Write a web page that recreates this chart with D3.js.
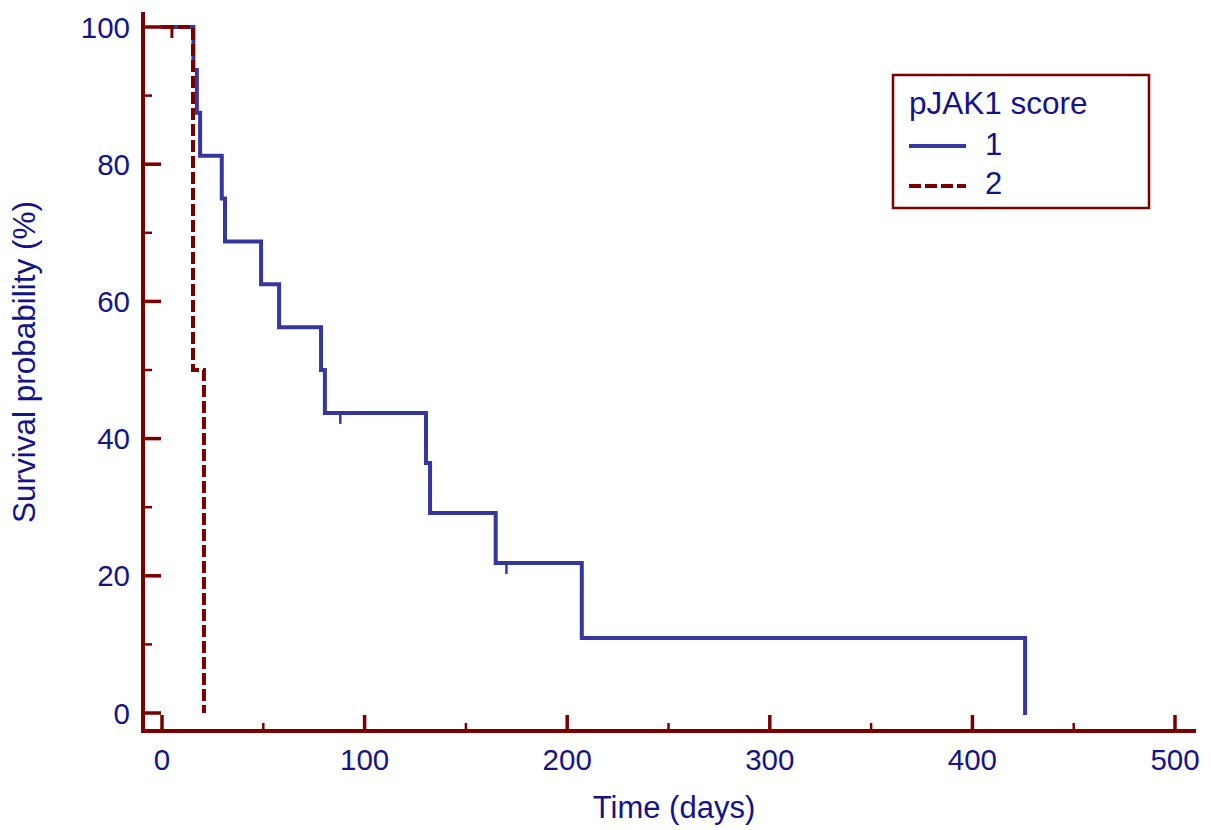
<!DOCTYPE html>
<html>
<head>
<meta charset="utf-8">
<script src="https://cdn.jsdelivr.net/npm/d3@7"></script>
<style>
  html, body { margin: 0; padding: 0; background: #ffffff; }
  svg { display: block; }
  text { font-family: "Liberation Sans", Arial, sans-serif; }
</style>
</head>
<body>
<svg id="chart" width="1211" height="830"></svg>
<script>
// ---- data ----
const seriesNames = ["1", "2"];
const legendTitle = "pJAK1 score";
// group 1: step times (days) and survival (%)
const g1Times = [0, 15.5, 17.2, 18.8, 29.5, 31.1, 48.9, 57.8, 78.5, 80.4, 130.3, 132.3, 164.7, 207.2, 426];
const g1Surv  = [100, 93.75, 87.5, 81.25, 75, 68.75, 62.5, 56.25, 50, 43.75, 36.46, 29.17, 21.88, 10.94, 0];
const g1CensorTimes = [88, 170];
const g1CensorSurv  = [43.75, 21.88];
// group 2
const g2Times = [0, 15.3, 20.7];
const g2Surv  = [100, 50, 0];
const g2CensorTimes = [4.9];
const g2CensorSurv  = [100];
// axis ticks
const xMajorTicks = [0, 100, 200, 300, 400, 500];
const xMinorTicks = [50, 150, 250, 350, 450];
const yMajorTicks = [0, 20, 40, 60, 80, 100];
const yMinorTicks = [10, 30, 50, 70, 90];
const xTitle = "Time (days)";
const yTitle = "Survival probability (%)";

// ---- styles ----
const axisColor = "#7a0000";
const textColor = "#14148a";
const blue = "#3636a0";
const red = "#7a0000";

const svg = d3.select("#chart");
svg.append("rect").attr("width", 1211).attr("height", 830).attr("fill", "#fff");

const x = d3.scaleLinear().domain([0, 500]).range([162, 1175]);
const y = d3.scaleLinear().domain([0, 100]).range([713, 27]);

const axisX = 143, axisY = 731;

// ---- curves ----
const line = d3.line().curve(d3.curveStepAfter).x(d => x(d[0])).y(d => y(d[1]));
const g1 = g1Times.map((t, i) => [t, g1Surv[i]]);
const g2 = g2Times.map((t, i) => [t, g2Surv[i]]);

svg.append("path").datum(g1).attr("d", line)
  .attr("fill", "none").attr("stroke", blue).attr("stroke-width", 4)
  .attr("stroke-linejoin", "miter").attr("stroke-linecap", "square");
svg.selectAll(".c1").data(g1CensorTimes).enter().append("line")
  .attr("x1", d => x(d)).attr("x2", d => x(d))
  .attr("y1", (d, i) => y(g1CensorSurv[i])).attr("y2", (d, i) => y(g1CensorSurv[i]) + 11)
  .attr("stroke", blue).attr("stroke-width", 2.5);

svg.append("path").datum(g2).attr("d", line)
  .attr("fill", "none").attr("stroke", red).attr("stroke-width", 4)
  .attr("stroke-dasharray", "12,4");
svg.selectAll(".c2").data(g2CensorTimes).enter().append("line")
  .attr("x1", d => x(d)).attr("x2", d => x(d))
  .attr("y1", (d, i) => y(g2CensorSurv[i])).attr("y2", (d, i) => y(g2CensorSurv[i]) + 11)
  .attr("stroke", red).attr("stroke-width", 3);

// ---- axes ----
const ax = svg.append("g");
ax.append("line").attr("x1", axisX).attr("x2", axisX).attr("y1", 12).attr("y2", axisY + 2)
  .attr("stroke", axisColor).attr("stroke-width", 4);
ax.append("line").attr("x1", axisX - 2).attr("x2", 1196).attr("y1", axisY).attr("y2", axisY)
  .attr("stroke", axisColor).attr("stroke-width", 4);

// y ticks
ax.selectAll(".ymaj").data(yMajorTicks).enter().append("line")
  .attr("x1", axisX).attr("x2", axisX + 18).attr("y1", d => y(d)).attr("y2", d => y(d))
  .attr("stroke", axisColor).attr("stroke-width", 3.5);
ax.selectAll(".ymin").data(yMinorTicks).enter().append("line")
  .attr("x1", axisX).attr("x2", axisX + 9).attr("y1", d => y(d)).attr("y2", d => y(d))
  .attr("stroke", axisColor).attr("stroke-width", 2.5);
ax.selectAll(".ylab").data(yMajorTicks).enter().append("text")
  .attr("x", 130).attr("y", d => y(d)).attr("dy", "0.36em")
  .attr("text-anchor", "end").attr("font-size", 29.5).attr("fill", textColor)
  .text(d => d);

// x ticks
ax.selectAll(".xmaj").data(xMajorTicks).enter().append("line")
  .attr("x1", d => x(d)).attr("x2", d => x(d)).attr("y1", axisY).attr("y2", axisY - 16)
  .attr("stroke", axisColor).attr("stroke-width", 3.5);
ax.selectAll(".xmin").data(xMinorTicks).enter().append("line")
  .attr("x1", d => x(d)).attr("x2", d => x(d)).attr("y1", axisY).attr("y2", axisY - 8)
  .attr("stroke", axisColor).attr("stroke-width", 2.5);
ax.selectAll(".xlab").data(xMajorTicks).enter().append("text")
  .attr("x", d => x(d)).attr("y", 770)
  .attr("text-anchor", "middle").attr("font-size", 29.5).attr("fill", textColor)
  .text(d => d);

// titles
svg.append("text").attr("x", 674).attr("y", 818).attr("text-anchor", "middle")
  .attr("font-size", 31).attr("fill", textColor).text(xTitle);
svg.append("text").attr("transform", "translate(35,362) rotate(-90)")
  .attr("text-anchor", "middle").attr("font-size", 31.5).attr("fill", textColor).text(yTitle);

// ---- legend ----
const lg = svg.append("g");
lg.append("rect").attr("x", 893).attr("y", 75).attr("width", 256).attr("height", 133)
  .attr("fill", "#fff").attr("stroke", axisColor).attr("stroke-width", 2.5);
lg.append("text").attr("x", 909).attr("y", 114).attr("font-size", 31.5).attr("fill", textColor)
  .text(legendTitle);
lg.append("line").attr("x1", 909).attr("x2", 966).attr("y1", 146).attr("y2", 146)
  .attr("stroke", blue).attr("stroke-width", 4);
lg.append("line").attr("x1", 909).attr("x2", 966).attr("y1", 186).attr("y2", 186)
  .attr("stroke", red).attr("stroke-width", 4).attr("stroke-dasharray", "12,4");
lg.selectAll(".lt").data(seriesNames).enter().append("text")
  .attr("x", 985).attr("y", (d, i) => 155 + i * 39)
  .attr("font-size", 31).attr("fill", textColor).text(d => d);
</script>
</body>
</html>
